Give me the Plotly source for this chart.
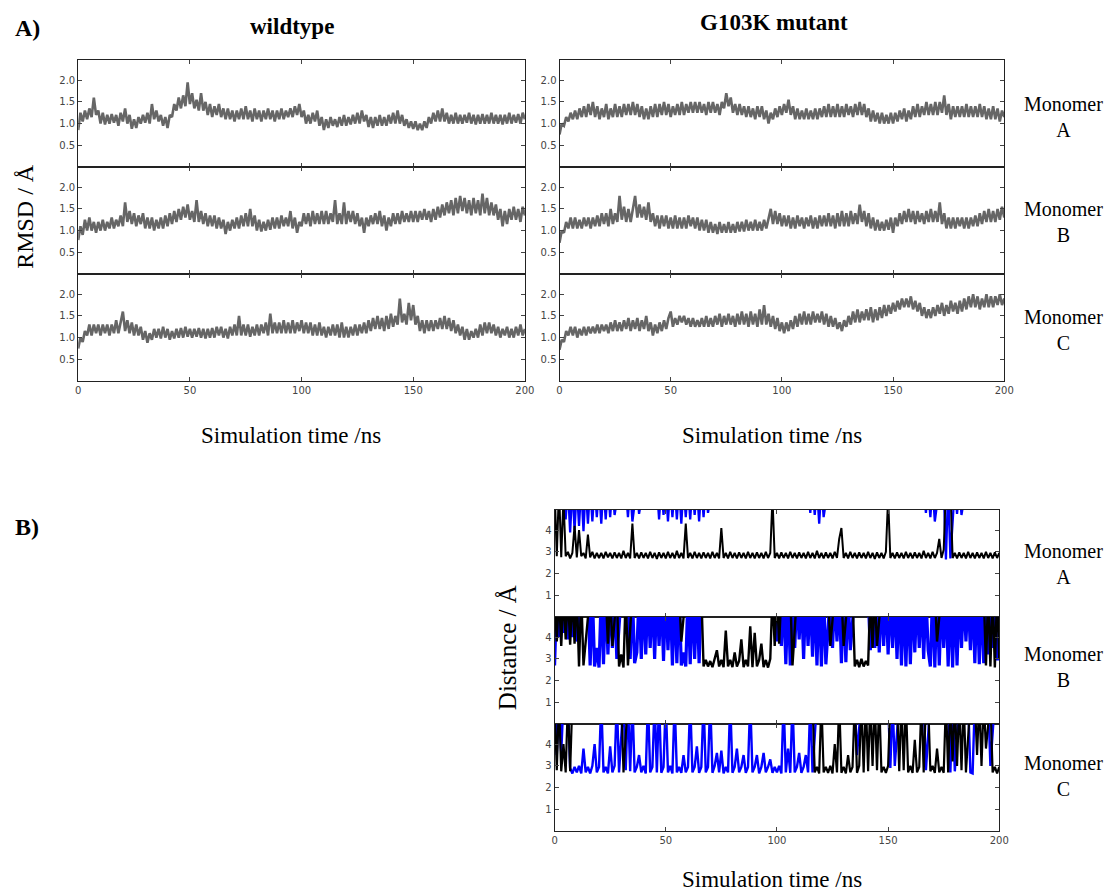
import plotly.graph_objects as go

# ---------------- data ----------------
TIME_NS = list(range(0, 201))
X_TICKS = [0, 50, 100, 150, 200]
RMSD_TICKS = [0.5, 1.0, 1.5, 2.0]
RMSD_TICK_TEXT = ["0.5", "1.0", "1.5", "2.0"]
DIST_TICKS = [1, 2, 3, 4]
DIST_TICK_TEXT = ["1", "2", "3", "4"]
COLUMN_TITLES = ["wildtype", "G103K mutant"]
MONOMERS = ["A", "B", "C"]

# RMSD (Angstrom), wildtype, monomers A/B/C
RMSD_WT_A = [
    0.85, 1.25, 1.05, 1.3, 1.1, 1.35, 1.15, 1.6, 1.2, 1.3,
    1.0, 1.25, 0.98, 1.2, 1.0, 1.22, 1.02, 1.2, 0.95, 1.25,
    1.05, 1.35, 1.0, 1.2, 0.88, 1.1, 0.9, 1.15, 1.0, 1.2,
    1.02, 1.25, 1.0, 1.45, 1.1, 1.3, 1.05, 1.2, 0.95, 1.15,
    0.9, 1.2, 1.15, 1.45, 1.3, 1.6, 1.35, 1.65, 1.4, 1.95,
    1.45, 1.7, 1.35, 1.55, 1.3, 1.7, 1.3, 1.5, 1.2, 1.45,
    1.15, 1.4, 1.2, 1.45, 1.15, 1.35, 1.1, 1.35, 1.1, 1.3,
    1.05, 1.3, 1.1, 1.35, 1.1, 1.4, 1.1, 1.3, 1.05, 1.35,
    1.1, 1.3, 1.05, 1.3, 1.1, 1.35, 1.1, 1.3, 1.05, 1.3,
    1.1, 1.35, 1.1, 1.3, 1.15, 1.35, 1.15, 1.4, 1.2, 1.45,
    1.15, 1.3, 1.0, 1.2, 1.0, 1.25, 1.05, 1.3, 0.95, 1.15,
    0.85, 1.1, 0.9, 1.15, 0.95, 1.1, 0.92, 1.15, 0.95, 1.2,
    0.95, 1.15, 0.98, 1.2, 1.0, 1.25, 1.0, 1.3, 1.05, 1.2,
    0.92, 1.15, 0.9, 1.15, 0.95, 1.2, 0.95, 1.15, 0.95, 1.2,
    1.0, 1.25, 1.0, 1.3, 1.0, 1.2, 0.95, 1.1, 0.9, 1.05,
    0.88, 1.05, 0.85, 1.0, 0.85, 1.05, 0.9, 1.15, 1.0, 1.25,
    1.05, 1.3, 1.05, 1.35, 1.05, 1.25, 1.0, 1.2, 1.0, 1.25,
    1.0, 1.2, 1.0, 1.2, 1.02, 1.25, 1.0, 1.2, 0.98, 1.2,
    1.0, 1.22, 1.0, 1.2, 1.0, 1.25, 1.0, 1.2, 1.0, 1.2,
    0.98, 1.2, 1.0, 1.25, 1.0, 1.2, 1.02, 1.22, 1.0, 1.25,
    1.1]
RMSD_WT_B = [
    0.78, 1.1, 0.9, 1.25, 1.0, 1.3, 1.0, 1.2, 0.95, 1.2,
    1.0, 1.25, 1.0, 1.2, 1.05, 1.3, 1.05, 1.25, 1.1, 1.35,
    1.1, 1.65, 1.2, 1.45, 1.15, 1.4, 1.1, 1.35, 1.15, 1.4,
    1.05, 1.3, 1.05, 1.3, 1.0, 1.25, 1.05, 1.3, 1.05, 1.35,
    1.1, 1.4, 1.15, 1.45, 1.2, 1.5, 1.25, 1.55, 1.3, 1.6,
    1.25, 1.45, 1.2, 1.7, 1.2, 1.45, 1.15, 1.4, 1.1, 1.35,
    1.1, 1.35, 1.05, 1.3, 1.05, 1.25, 0.92, 1.2, 1.0, 1.25,
    1.05, 1.3, 1.05, 1.35, 1.1, 1.4, 1.1, 1.5, 1.1, 1.35,
    1.0, 1.25, 0.98, 1.2, 1.0, 1.25, 1.02, 1.3, 1.05, 1.3,
    1.05, 1.35, 1.1, 1.3, 1.1, 1.45, 1.05, 1.3, 0.95, 1.2,
    1.1, 1.4, 1.15, 1.4, 1.1, 1.45, 1.15, 1.4, 1.15, 1.45,
    1.15, 1.45, 1.15, 1.4, 1.2, 1.7, 1.15, 1.4, 1.15, 1.65,
    1.15, 1.45, 1.2, 1.45, 1.15, 1.4, 1.1, 1.3, 0.95, 1.3,
    1.1, 1.35, 1.15, 1.4, 1.15, 1.45, 1.1, 1.35, 1.0, 1.3,
    1.1, 1.4, 1.15, 1.4, 1.15, 1.45, 1.2, 1.4, 1.2, 1.45,
    1.2, 1.45, 1.2, 1.45, 1.25, 1.5, 1.25, 1.45, 1.2, 1.5,
    1.25, 1.55, 1.3, 1.6, 1.35, 1.65, 1.4, 1.7, 1.35, 1.75,
    1.4, 1.8, 1.45, 1.75, 1.4, 1.7, 1.35, 1.75, 1.4, 1.7,
    1.35, 1.85, 1.4, 1.75, 1.35, 1.65, 1.35, 1.6, 1.25, 1.5,
    1.1, 1.45, 1.15, 1.5, 1.25, 1.55, 1.25, 1.5, 1.2, 1.55,
    1.35]
RMSD_WT_C = [
    0.75, 1.0, 0.9, 1.15, 1.05, 1.3, 1.05, 1.3, 1.1, 1.3,
    1.05, 1.3, 1.1, 1.3, 1.05, 1.3, 1.1, 1.4, 1.1, 1.35,
    1.6, 1.15, 1.4, 1.1, 1.35, 1.05, 1.3, 1.05, 1.25, 0.95,
    1.15, 0.88, 1.1, 0.95, 1.2, 1.0, 1.2, 0.98, 1.25, 1.0,
    1.2, 0.95, 1.15, 0.98, 1.2, 1.0, 1.22, 1.0, 1.25, 1.02,
    1.2, 1.0, 1.2, 1.02, 1.22, 1.0, 1.2, 0.98, 1.2, 1.0,
    1.22, 1.0, 1.25, 1.05, 1.25, 1.0, 1.2, 0.98, 1.25, 1.05,
    1.3, 1.05, 1.5, 1.05, 1.3, 1.05, 1.3, 1.02, 1.25, 1.05,
    1.3, 1.05, 1.3, 1.1, 1.35, 1.05, 1.55, 1.1, 1.35, 1.1,
    1.35, 1.1, 1.4, 1.1, 1.35, 1.1, 1.4, 1.1, 1.35, 1.15,
    1.4, 1.1, 1.35, 1.1, 1.35, 1.05, 1.3, 1.05, 1.35, 1.05,
    1.25, 1.0, 1.25, 1.05, 1.3, 1.05, 1.3, 1.0, 1.35, 1.0,
    1.25, 1.0, 1.25, 1.05, 1.3, 1.05, 1.3, 1.1, 1.35, 1.1,
    1.4, 1.15, 1.45, 1.2, 1.5, 1.2, 1.45, 1.15, 1.5, 1.2,
    1.55, 1.25, 1.5, 1.3, 1.9, 1.35, 1.55, 1.3, 1.8, 1.4,
    1.75, 1.3, 1.5, 1.15, 1.4, 1.1, 1.4, 1.15, 1.4, 1.15,
    1.4, 1.2, 1.45, 1.2, 1.5, 1.2, 1.45, 1.15, 1.4, 1.1,
    1.3, 1.05, 1.25, 0.95, 1.2, 0.95, 1.15, 1.0, 1.2, 1.0,
    1.3, 1.05, 1.35, 1.1, 1.35, 1.1, 1.3, 1.05, 1.25, 1.0,
    1.2, 1.05, 1.25, 1.0, 1.2, 1.0, 1.25, 1.05, 1.3, 1.05,
    1.2]

# RMSD (Angstrom), G103K mutant, monomers A/B/C
RMSD_MUT_A = [
    0.75, 1.0, 0.95, 1.15, 1.05, 1.25, 1.1, 1.3, 1.1, 1.35,
    1.15, 1.4, 1.15, 1.45, 1.2, 1.5, 1.15, 1.4, 1.1, 1.35,
    1.15, 1.45, 1.1, 1.35, 1.15, 1.45, 1.15, 1.4, 1.15, 1.45,
    1.2, 1.45, 1.2, 1.5, 1.2, 1.45, 1.15, 1.4, 1.1, 1.35,
    1.1, 1.4, 1.15, 1.45, 1.15, 1.45, 1.2, 1.5, 1.2, 1.45,
    1.15, 1.4, 1.2, 1.45, 1.2, 1.5, 1.2, 1.45, 1.25, 1.5,
    1.25, 1.5, 1.25, 1.5, 1.25, 1.45, 1.2, 1.5, 1.25, 1.5,
    1.25, 1.45, 1.2, 1.5, 1.35, 1.7, 1.4, 1.6, 1.25, 1.45,
    1.2, 1.45, 1.2, 1.4, 1.15, 1.4, 1.15, 1.35, 1.1, 1.4,
    1.15, 1.4, 1.1, 1.3, 1.0, 1.25, 1.1, 1.35, 1.15, 1.4,
    1.2, 1.45, 1.25, 1.55, 1.2, 1.4, 1.1, 1.35, 1.1, 1.3,
    1.1, 1.35, 1.1, 1.3, 1.1, 1.35, 1.1, 1.35, 1.15, 1.4,
    1.15, 1.45, 1.15, 1.4, 1.15, 1.45, 1.15, 1.4, 1.15, 1.45,
    1.2, 1.4, 1.15, 1.45, 1.2, 1.5, 1.2, 1.45, 1.15, 1.35,
    1.05, 1.3, 1.05, 1.25, 1.0, 1.25, 1.0, 1.2, 1.0, 1.25,
    1.0, 1.25, 1.05, 1.3, 1.1, 1.35, 1.05, 1.3, 1.1, 1.4,
    1.15, 1.45, 1.15, 1.4, 1.2, 1.5, 1.2, 1.45, 1.2, 1.5,
    1.2, 1.5, 1.25, 1.65, 1.2, 1.45, 1.1, 1.4, 1.15, 1.4,
    1.15, 1.4, 1.15, 1.45, 1.15, 1.4, 1.15, 1.4, 1.15, 1.45,
    1.15, 1.4, 1.1, 1.35, 1.1, 1.4, 1.1, 1.35, 1.05, 1.3,
    1.15]
RMSD_MUT_B = [
    0.72, 1.0, 0.95, 1.2, 1.05, 1.3, 1.05, 1.3, 1.05, 1.25,
    1.05, 1.3, 1.1, 1.3, 1.05, 1.3, 1.1, 1.35, 1.1, 1.4,
    1.15, 1.4, 1.1, 1.5, 1.15, 1.4, 1.2, 1.8, 1.25, 1.55,
    1.2, 1.5, 1.2, 1.55, 1.8, 1.3, 1.6, 1.3, 1.55, 1.25,
    1.65, 1.2, 1.4, 1.1, 1.35, 1.05, 1.35, 1.1, 1.35, 1.05,
    1.3, 1.05, 1.35, 1.05, 1.3, 1.05, 1.3, 1.05, 1.35, 1.1,
    1.3, 1.05, 1.3, 1.0, 1.25, 1.0, 1.25, 0.95, 1.2, 0.95,
    1.15, 0.92, 1.2, 0.95, 1.15, 0.95, 1.2, 0.95, 1.15, 0.95,
    1.2, 0.98, 1.2, 0.98, 1.25, 1.0, 1.2, 1.0, 1.25, 1.0,
    1.2, 1.0, 1.25, 1.05, 1.3, 1.5, 1.15, 1.45, 1.15, 1.4,
    1.1, 1.35, 1.1, 1.35, 1.05, 1.3, 1.05, 1.35, 1.1, 1.3,
    1.05, 1.3, 1.1, 1.35, 1.05, 1.3, 1.05, 1.35, 1.1, 1.35,
    1.1, 1.4, 1.1, 1.35, 1.05, 1.4, 1.1, 1.45, 1.1, 1.4,
    1.1, 1.45, 1.15, 1.4, 1.15, 1.6, 1.2, 1.45, 1.1, 1.4,
    1.05, 1.3, 1.0, 1.25, 1.0, 1.2, 1.0, 1.25, 1.02, 1.3,
    0.95, 1.3, 1.1, 1.4, 1.15, 1.45, 1.2, 1.5, 1.2, 1.45,
    1.15, 1.45, 1.2, 1.4, 1.15, 1.45, 1.2, 1.5, 1.2, 1.45,
    1.2, 1.65, 1.15, 1.4, 1.05, 1.3, 1.05, 1.3, 1.05, 1.3,
    1.1, 1.3, 1.05, 1.3, 1.05, 1.3, 1.1, 1.35, 1.1, 1.4,
    1.15, 1.45, 1.2, 1.5, 1.2, 1.45, 1.2, 1.5, 1.25, 1.55,
    1.3]
RMSD_MUT_C = [
    0.72, 0.95, 0.9, 1.15, 1.05, 1.25, 1.05, 1.25, 1.0, 1.2,
    1.05, 1.25, 1.05, 1.25, 1.1, 1.25, 1.1, 1.3, 1.1, 1.3,
    1.15, 1.3, 1.1, 1.35, 1.15, 1.4, 1.15, 1.35, 1.15, 1.4,
    1.2, 1.45, 1.15, 1.4, 1.2, 1.45, 1.15, 1.4, 1.2, 1.5,
    1.15, 1.35, 1.05, 1.3, 1.1, 1.35, 1.15, 1.4, 1.2, 1.45,
    1.6, 1.25, 1.45, 1.3, 1.5, 1.35, 1.5, 1.3, 1.45, 1.25,
    1.45, 1.25, 1.4, 1.25, 1.45, 1.25, 1.5, 1.25, 1.45, 1.25,
    1.5, 1.3, 1.55, 1.25, 1.5, 1.3, 1.55, 1.3, 1.5, 1.25,
    1.55, 1.3, 1.6, 1.3, 1.55, 1.25, 1.6, 1.3, 1.55, 1.25,
    1.65, 1.3, 1.75, 1.3, 1.55, 1.25, 1.5, 1.2, 1.45, 1.15,
    1.35, 1.1, 1.35, 1.15, 1.4, 1.2, 1.5, 1.25, 1.55, 1.3,
    1.6, 1.3, 1.55, 1.3, 1.6, 1.35, 1.55, 1.35, 1.6, 1.3,
    1.55, 1.25, 1.5, 1.25, 1.45, 1.2, 1.35, 1.15, 1.4, 1.25,
    1.5, 1.3, 1.6, 1.35, 1.65, 1.35, 1.6, 1.4, 1.65, 1.4,
    1.7, 1.35, 1.65, 1.4, 1.7, 1.45, 1.75, 1.5, 1.75, 1.55,
    1.8, 1.6, 1.85, 1.65, 1.9, 1.7, 1.9, 1.7, 1.95, 1.65,
    1.85, 1.6, 1.8, 1.5, 1.7, 1.45, 1.65, 1.45, 1.7, 1.5,
    1.75, 1.55, 1.8, 1.5, 1.75, 1.55, 1.85, 1.6, 1.8, 1.55,
    1.85, 1.6, 1.9, 1.65, 1.95, 1.7, 2.0, 1.7, 1.95, 1.65,
    1.9, 1.7, 2.0, 1.7, 1.95, 1.7, 1.95, 1.75, 2.0, 1.75,
    1.9]

# Distances (Angstrom), G103K mutant; values above the axis top are off-scale (unbound)
DIST_A_BLACK = [
    6.0, 2.8, 6.0, 2.75, 5.5, 2.8, 3.0, 2.7, 2.95, 4.2,
    2.75, 4.0, 2.8, 2.95, 2.7, 3.8, 2.75, 3.0, 2.7, 2.95,
    2.72, 2.95, 2.7, 3.0, 2.75, 2.95, 2.7, 2.98, 2.72, 2.95,
    2.7, 3.05, 2.72, 2.95, 2.7, 4.3, 2.72, 2.95, 2.7, 2.98,
    2.72, 2.95, 2.7, 3.0, 2.72, 2.95, 2.68, 2.98, 2.72, 2.95,
    2.7, 3.0, 2.72, 2.95, 2.7, 3.05, 2.72, 2.95, 2.7, 4.3,
    2.72, 2.95, 2.7, 3.0, 2.72, 2.95, 2.7, 2.98, 2.72, 2.95,
    2.7, 3.0, 2.72, 2.95, 2.7, 4.1, 2.72, 2.95, 2.7, 3.0,
    2.72, 2.95, 2.7, 2.98, 2.72, 2.95, 2.7, 3.0, 2.72, 2.95,
    2.7, 2.98, 2.72, 2.95, 2.7, 3.0, 2.72, 2.95, 5.5, 2.72,
    2.95, 2.7, 2.98, 2.72, 2.95, 2.7, 3.0, 2.72, 2.95, 2.7,
    2.98, 2.72, 2.95, 2.7, 3.0, 2.72, 2.95, 2.7, 3.05, 2.72,
    2.95, 2.7, 2.98, 2.72, 2.95, 2.7, 3.0, 2.72, 3.6, 4.1,
    2.72, 2.95, 2.7, 3.0, 2.72, 2.95, 2.7, 2.98, 2.72, 2.95,
    2.7, 3.0, 2.72, 2.95, 2.68, 2.98, 2.72, 2.95, 2.7, 3.0,
    5.5, 2.72, 2.95, 2.7, 2.98, 2.72, 2.95, 2.7, 3.0, 2.72,
    2.95, 2.7, 2.98, 2.72, 2.95, 2.7, 3.05, 2.72, 2.95, 2.7,
    3.0, 2.72, 2.95, 3.6, 2.72, 3.1, 6.0, 6.0, 6.0, 2.72,
    2.95, 2.7, 2.98, 2.72, 2.95, 2.7, 3.0, 2.72, 2.95, 2.7,
    2.98, 2.72, 2.95, 2.7, 3.0, 2.72, 2.95, 2.7, 2.98, 2.72,
    2.95]
DIST_A_BLUE = [
    6.0, 6.0, 6.0, 6.0, 6.0, 4.5, 6.0, 3.9, 6.0, 4.0,
    6.0, 4.2, 6.0, 3.95, 6.0, 4.3, 6.0, 4.4, 6.0, 4.6,
    6.0, 4.3, 6.0, 4.5, 6.0, 4.6, 6.0, 4.7, 6.0, 6.0,
    6.0, 6.0, 6.0, 4.6, 6.0, 4.4, 6.0, 6.0, 4.75, 6.0,
    6.0, 6.0, 6.0, 6.0, 6.0, 6.0, 6.0, 4.5, 6.0, 4.7,
    6.0, 4.4, 6.0, 4.6, 6.0, 4.5, 6.0, 4.3, 6.0, 4.6,
    6.0, 4.5, 6.0, 4.7, 6.0, 4.4, 6.0, 4.6, 6.0, 4.8,
    6.0, 6.0, 6.0, 6.0, 6.0, 6.0, 6.0, 6.0, 6.0, 6.0,
    6.0, 6.0, 6.0, 6.0, 6.0, 6.0, 6.0, 6.0, 6.0, 6.0,
    6.0, 6.0, 6.0, 6.0, 6.0, 6.0, 6.0, 6.0, 6.0, 6.0,
    6.0, 6.0, 6.0, 6.0, 6.0, 6.0, 6.0, 6.0, 6.0, 6.0,
    6.0, 6.0, 6.0, 6.0, 6.0, 4.8, 6.0, 4.7, 6.0, 4.3,
    6.0, 4.6, 6.0, 6.0, 6.0, 6.0, 6.0, 6.0, 6.0, 6.0,
    6.0, 6.0, 6.0, 6.0, 6.0, 6.0, 6.0, 6.0, 6.0, 6.0,
    6.0, 6.0, 6.0, 6.0, 6.0, 6.0, 6.0, 6.0, 6.0, 6.0,
    6.0, 6.0, 6.0, 6.0, 6.0, 6.0, 6.0, 6.0, 6.0, 6.0,
    6.0, 6.0, 6.0, 6.0, 6.0, 6.0, 6.0, 4.8, 6.0, 4.6,
    6.0, 4.4, 6.0, 6.0, 6.0, 6.0, 2.65, 6.0, 2.7, 6.0,
    6.0, 4.75, 6.0, 4.7, 6.0, 6.0, 6.0, 6.0, 6.0, 6.0,
    6.0, 6.0, 6.0, 6.0, 6.0, 6.0, 6.0, 6.0, 6.0, 6.0,
    6.0]
DIST_B_BLACK = [
    6.0, 3.8, 6.0, 3.6, 6.0, 3.9, 6.0, 3.65, 6.0, 3.7,
    6.0, 2.65, 6.0, 2.7, 3.8, 6.0, 6.0, 6.0, 6.0, 6.0,
    6.0, 6.0, 6.0, 6.0, 3.7, 6.0, 3.6, 6.0, 6.0, 2.65,
    3.2, 2.6, 6.0, 2.7, 6.0, 6.0, 6.0, 6.0, 6.0, 6.0,
    6.0, 6.0, 6.0, 6.0, 6.0, 6.0, 6.0, 6.0, 6.0, 6.0,
    6.0, 6.0, 6.0, 6.0, 6.0, 6.0, 6.0, 3.8, 6.0, 6.0,
    6.0, 6.0, 6.0, 6.0, 6.0, 6.0, 6.0, 2.65, 2.95, 2.65,
    2.9, 2.62, 3.0, 3.4, 2.65, 2.95, 2.62, 4.3, 2.65, 2.95,
    2.62, 3.3, 2.65, 2.9, 3.9, 2.62, 2.95, 2.65, 4.5, 2.62,
    4.2, 2.65, 2.95, 3.7, 2.62, 2.95, 2.6, 3.0, 6.0, 3.6,
    6.0, 3.7, 6.0, 6.0, 6.0, 6.0, 6.0, 2.7, 6.0, 6.0,
    6.0, 6.0, 6.0, 6.0, 6.0, 6.0, 6.0, 6.0, 6.0, 6.0,
    6.0, 6.0, 6.0, 6.0, 3.6, 6.0, 6.0, 6.0, 6.0, 6.0,
    3.6, 6.0, 6.0, 6.0, 6.0, 2.65, 2.95, 2.62, 3.0, 2.65,
    2.9, 2.7, 6.0, 3.5, 6.0, 3.6, 6.0, 6.0, 6.0, 6.0,
    6.0, 6.0, 6.0, 6.0, 6.0, 6.0, 6.0, 6.0, 6.0, 6.0,
    6.0, 6.0, 6.0, 6.0, 6.0, 6.0, 6.0, 6.0, 6.0, 6.0,
    6.0, 6.0, 3.8, 6.0, 6.0, 6.0, 6.0, 6.0, 6.0, 6.0,
    6.0, 6.0, 6.0, 6.0, 6.0, 6.0, 6.0, 6.0, 6.0, 6.0,
    6.0, 6.0, 6.0, 6.0, 2.7, 6.0, 2.65, 6.0, 2.6, 6.0,
    3.0]
DIST_B_BLUE = [
    2.7, 6.0, 4.0, 6.0, 4.2, 6.0, 3.9, 6.0, 4.0, 6.0,
    3.8, 6.0, 6.0, 6.0, 6.0, 6.0, 2.7, 6.0, 2.65, 3.5,
    2.6, 6.0, 2.75, 6.0, 3.2, 6.0, 3.5, 6.0, 3.0, 6.0,
    6.0, 6.0, 6.0, 6.0, 3.0, 6.0, 2.8, 3.3, 6.0, 3.0,
    6.0, 3.2, 6.0, 3.5, 6.0, 3.0, 6.0, 3.6, 6.0, 2.9,
    6.0, 3.4, 6.0, 2.7, 6.0, 2.8, 6.0, 2.7, 3.3, 2.65,
    6.0, 2.75, 6.0, 3.0, 6.0, 2.8, 6.0, 6.0, 6.0, 6.0,
    6.0, 6.0, 6.0, 6.0, 6.0, 6.0, 6.0, 6.0, 6.0, 6.0,
    6.0, 6.0, 6.0, 6.0, 6.0, 6.0, 6.0, 6.0, 6.0, 6.0,
    6.0, 6.0, 6.0, 6.0, 6.0, 6.0, 6.0, 6.0, 6.0, 6.0,
    3.8, 6.0, 3.6, 6.0, 2.75, 6.0, 2.7, 6.0, 3.5, 6.0,
    3.9, 6.0, 3.0, 6.0, 3.6, 6.0, 3.1, 6.0, 2.7, 6.0,
    2.65, 6.0, 2.75, 6.0, 6.0, 3.5, 6.0, 3.8, 6.0, 2.8,
    6.0, 2.85, 6.0, 3.4, 6.0, 6.0, 6.0, 6.0, 6.0, 6.0,
    6.0, 6.0, 3.4, 6.0, 3.5, 6.0, 3.3, 6.0, 3.6, 6.0,
    3.2, 6.0, 3.5, 6.0, 3.0, 6.0, 2.7, 6.0, 2.65, 6.0,
    2.75, 6.0, 3.3, 6.0, 3.5, 6.0, 3.0, 6.0, 3.4, 2.65,
    6.0, 2.6, 6.0, 2.7, 6.0, 3.5, 6.0, 2.65, 6.0, 2.6,
    6.0, 2.7, 6.0, 3.5, 6.0, 3.8, 6.0, 3.4, 6.0, 2.8,
    6.0, 2.75, 6.0, 2.8, 6.0, 3.2, 6.0, 3.5, 6.0, 3.0,
    3.0]
DIST_C_BLACK = [
    6.0, 2.8, 6.0, 2.75, 4.0, 2.7, 6.0, 2.75, 6.0, 6.0,
    6.0, 6.0, 6.0, 6.0, 6.0, 6.0, 6.0, 6.0, 6.0, 6.0,
    6.0, 6.0, 6.0, 6.0, 6.0, 6.0, 6.0, 6.0, 6.0, 6.0,
    6.0, 2.7, 6.0, 6.0, 6.0, 6.0, 6.0, 6.0, 6.0, 6.0,
    6.0, 6.0, 6.0, 6.0, 6.0, 6.0, 6.0, 6.0, 6.0, 6.0,
    6.0, 6.0, 6.0, 6.0, 6.0, 6.0, 6.0, 6.0, 6.0, 6.0,
    6.0, 6.0, 6.0, 6.0, 6.0, 6.0, 6.0, 6.0, 6.0, 6.0,
    6.0, 6.0, 6.0, 6.0, 6.0, 6.0, 6.0, 6.0, 6.0, 6.0,
    6.0, 6.0, 6.0, 6.0, 6.0, 6.0, 6.0, 6.0, 6.0, 6.0,
    6.0, 6.0, 6.0, 6.0, 6.0, 6.0, 6.0, 6.0, 6.0, 6.0,
    6.0, 6.0, 6.0, 6.0, 6.0, 6.0, 6.0, 6.0, 6.0, 6.0,
    6.0, 6.0, 6.0, 6.0, 6.0, 6.0, 6.0, 2.7, 2.95, 2.65,
    6.0, 2.7, 2.95, 2.68, 3.0, 2.65, 4.0, 2.7, 6.0, 2.68,
    2.95, 2.65, 3.5, 2.7, 2.95, 6.0, 2.68, 3.0, 6.0, 2.7,
    6.0, 2.75, 6.0, 3.0, 6.0, 2.8, 6.0, 2.7, 2.95, 2.68,
    3.0, 6.0, 6.0, 6.0, 6.0, 2.75, 6.0, 2.8, 6.0, 2.7,
    3.0, 2.68, 4.2, 2.7, 2.95, 6.0, 2.7, 6.0, 6.0, 2.75,
    3.0, 2.68, 3.8, 2.7, 2.95, 2.68, 6.0, 2.7, 6.0, 3.2,
    6.0, 3.0, 6.0, 2.8, 6.0, 2.7, 6.0, 6.0, 6.0, 6.0,
    3.5, 6.0, 3.0, 6.0, 3.8, 6.0, 6.0, 2.7, 2.95, 2.65,
    2.95]
DIST_C_BLUE = [
    6.0, 3.5, 6.0, 3.6, 6.0, 6.0, 6.0, 2.9, 2.65, 2.95,
    2.7, 3.0, 2.65, 3.8, 2.7, 2.95, 2.65, 3.0, 4.0, 2.7,
    2.95, 6.0, 2.7, 2.95, 2.65, 3.9, 2.7, 3.0, 6.0, 2.7,
    6.0, 6.0, 2.8, 6.0, 2.75, 6.0, 2.7, 2.95, 3.5, 2.7,
    3.0, 2.65, 6.0, 2.7, 2.95, 6.0, 2.7, 6.0, 2.68, 2.95,
    6.0, 2.7, 3.0, 2.65, 6.0, 2.7, 2.95, 2.68, 3.5, 2.7,
    2.95, 6.0, 2.7, 2.95, 3.9, 2.68, 2.95, 6.0, 2.7, 2.95,
    6.0, 2.68, 3.0, 3.6, 2.7, 3.7, 2.65, 2.95, 2.7, 6.0,
    2.68, 2.95, 3.8, 2.7, 2.95, 3.5, 2.68, 2.95, 6.0, 2.7,
    2.95, 3.5, 2.65, 2.95, 3.6, 2.7, 2.95, 3.3, 2.68, 2.95,
    2.7, 3.0, 2.65, 6.0, 2.7, 3.8, 2.68, 6.0, 2.7, 2.95,
    3.6, 2.68, 2.95, 3.5, 2.7, 6.0, 2.7, 6.0, 6.0, 6.0,
    6.0, 6.0, 6.0, 6.0, 6.0, 6.0, 6.0, 6.0, 6.0, 6.0,
    6.0, 6.0, 6.0, 6.0, 6.0, 6.0, 3.5, 6.0, 6.0, 6.0,
    6.0, 6.0, 6.0, 6.0, 6.0, 6.0, 6.0, 6.0, 6.0, 6.0,
    6.0, 2.9, 6.0, 3.0, 6.0, 6.0, 6.0, 6.0, 6.0, 6.0,
    6.0, 6.0, 6.0, 6.0, 6.0, 6.0, 6.0, 2.8, 6.0, 6.0,
    6.0, 6.0, 6.0, 6.0, 6.0, 6.0, 6.0, 6.0, 2.7, 6.0,
    2.75, 6.0, 6.0, 6.0, 6.0, 6.0, 6.0, 2.7, 2.65, 6.0,
    6.0, 6.0, 6.0, 6.0, 6.0, 6.0, 3.0, 6.0, 6.0, 6.0,
    6.0]

# ---------------- layout helpers ----------------
# The page body has an 8 px margin, so the figure is drawn 8 px in from the
# top-left corner; positions below are given in page pixels and shifted.
PAGE_OFFSET = 8
W, H = 1111, 885


def px_x(px):
    return (px - PAGE_OFFSET) / W


def px_y(py):
    return 1 - (py - PAGE_OFFSET) / H


def xdom(left, right):
    return [px_x(left), px_x(right)]


def ydom(top, bottom):
    return [px_y(bottom), px_y(top)]


SERIF = "Liberation Serif, Times New Roman, serif"
SANS = "DejaVu Sans, sans-serif"
GRAY = "#666666"
BLUE = "#0000ff"
BLACK = "#000000"

# (axis index, list of (series, color, width), x-domain, y-domain, kind, show x tick labels)
panels = [
    (1, [(RMSD_WT_A, GRAY, 2.6)], xdom(76, 528), ydom(60, 167), "rmsd", False),
    (2, [(RMSD_MUT_A, GRAY, 2.6)], xdom(563, 1013), ydom(60, 167), "rmsd", False),
    (3, [(RMSD_WT_B, GRAY, 2.6)], xdom(76, 528), ydom(167, 274), "rmsd", False),
    (4, [(RMSD_MUT_B, GRAY, 2.6)], xdom(563, 1013), ydom(167, 274), "rmsd", False),
    (5, [(RMSD_WT_C, GRAY, 2.6)], xdom(76, 528), ydom(274, 381), "rmsd", True),
    (6, [(RMSD_MUT_C, GRAY, 2.6)], xdom(563, 1013), ydom(274, 381), "rmsd", True),
    (7, [(DIST_A_BLUE, BLUE, 2.3), (DIST_A_BLACK, BLACK, 2.0)], xdom(558, 1008), ydom(510, 617), "dist", False),
    (8, [(DIST_B_BLUE, BLUE, 3.2), (DIST_B_BLACK, BLACK, 2.4)], xdom(558, 1008), ydom(617, 724), "dist", False),
    (9, [(DIST_C_BLUE, BLUE, 2.4), (DIST_C_BLACK, BLACK, 2.2)], xdom(558, 1008), ydom(724, 831), "dist", True),
]

fig = go.Figure()
layout_axes = {}
for idx, series_list, xd, yd, kind, show_x in panels:
    suffix = "" if idx == 1 else str(idx)
    for values, color, width in series_list:
        fig.add_trace(go.Scatter(
            x=TIME_NS[:len(values)], y=values, mode="lines",
            line=dict(color=color, width=width),
            xaxis="x" + suffix, yaxis="y" + suffix,
            hoverinfo="skip", showlegend=False,
        ))
    common = dict(showline=True, linecolor="#222222", linewidth=1, mirror="ticks",
                  ticks="inside", ticklen=4, tickwidth=1, tickcolor="#444444",
                  showgrid=False, zeroline=False,
                  tickfont=dict(family=SANS, size=10, color="#444444"))
    layout_axes["xaxis" + suffix] = dict(
        domain=xd, anchor="y" + suffix, range=[0, 200],
        tickvals=X_TICKS, ticktext=[str(v) for v in X_TICKS],
        showticklabels=show_x, **common)
    if kind == "rmsd":
        layout_axes["yaxis" + suffix] = dict(
            domain=yd, anchor="x" + suffix, range=[0, 2.465],
            tickvals=RMSD_TICKS, ticktext=RMSD_TICK_TEXT, **common)
    else:
        layout_axes["yaxis" + suffix] = dict(
            domain=yd, anchor="x" + suffix, range=[0, 4.93],
            tickvals=DIST_TICKS, ticktext=DIST_TICK_TEXT, **common)


def ann(text, px, py, size, bold=False, angle=0, xanchor="center"):
    if bold:
        text = "<b>" + text + "</b>"
    return dict(text=text, x=px_x(px), y=px_y(py), xref="paper", yref="paper",
                xanchor=xanchor, yanchor="middle", showarrow=False, textangle=angle,
                font=dict(family=SERIF, size=size, color="black"), align="center")


annotations = [
    ann("A)", 10, 28, 24, bold=True, xanchor="left"),
    ann("B)", 10, 527, 24, bold=True, xanchor="left"),
    ann(COLUMN_TITLES[0], 292, 26, 23, bold=True),
    ann(COLUMN_TITLES[1], 780, 22, 23, bold=True),
    ann("RMSD / Å", 22, 216, 24, angle=-90),
    ann("Distance / Å", 510, 648, 25, angle=-90),
    ann("Simulation time /ns", 291, 435, 23),
    ann("Simulation time /ns", 778, 435, 23),
    ann("Simulation time /ns", 778, 879, 23),
]
for m, py in zip(MONOMERS, [117, 222, 330]):
    annotations.append(ann("Monomer<br>" + m, 1073, py, 20))
for m, py in zip(MONOMERS, [564, 667, 776]):
    annotations.append(ann("Monomer<br>" + m, 1073, py, 20))

fig.update_layout(
    width=W, height=H, margin=dict(l=0, r=0, t=0, b=0),
    paper_bgcolor="white", plot_bgcolor="white",
    annotations=annotations, **layout_axes,
)

fig.write_html("out.html")
